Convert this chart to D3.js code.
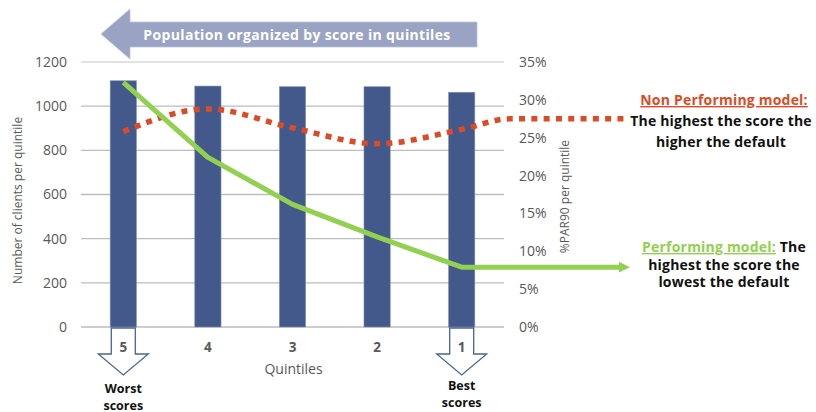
<!DOCTYPE html>
<html lang="en">
<head>
<meta charset="UTF-8">
<title>Population by score quintiles</title>
<script src="https://d3js.org/d3.v7.min.js"></script>
<style>
  body { margin: 0; background: #fff; }
  svg text { font-family: "Open Sans", "Noto Sans", sans-serif; }
</style>
</head>
<body>
<svg id="chart" width="816" height="412"></svg>
<script>
// data
const quintiles = ["5", "4", "3", "2", "1"];
const clients = [1115, 1091, 1088, 1088, 1063];
const parPerforming = [0.323, 0.224, 0.162, 0.119, 0.079];
const parNonPerforming = [0.258, 0.288, 0.263, 0.242, 0.261];
const leftTicks = [0, 200, 400, 600, 800, 1000, 1200];
const rightTicks = [0, 0.05, 0.10, 0.15, 0.20, 0.25, 0.30, 0.35];

const svg = d3.select("#chart");
const plotL = 81, plotR = 504, plotT = 62, plotB = 327;
const lineEndX = 627;

const x = d3.scaleBand().domain(quintiles).range([plotL, plotR])
    .paddingInner(0.69).paddingOuter(0.345);
const yL = d3.scaleLinear().domain([0, 1200]).range([plotB, plotT]);
const yR = d3.scaleLinear().domain([0, 0.35]).range([plotB, plotT]);
const cx = q => x(q) + x.bandwidth() / 2;

const grey = "#595959";
const red = "#dc4a26";
const green = "#92d050";
const barBlue = "#44598b";

// gridlines
svg.append("g").selectAll("line").data(leftTicks).join("line")
    .attr("x1", plotL).attr("x2", plotR)
    .attr("y1", d => yL(d)).attr("y2", d => yL(d))
    .attr("stroke", d => d === 1200 ? "#d9d9d9" : "#bdbdbd")
    .attr("stroke-width", 1.4);

// left axis
const axL = svg.append("g").attr("transform", `translate(${plotL - 14},0)`)
    .call(d3.axisLeft(yL).tickValues(leftTicks).tickSize(0).tickPadding(0)
        .tickFormat(d3.format("d")));
axL.select(".domain").remove();
axL.selectAll("text").attr("fill", grey).attr("font-size", 14)
    .style("font-family", "'Open Sans', sans-serif");

// right axis
const axR = svg.append("g").attr("transform", `translate(${plotR + 15},0)`)
    .call(d3.axisRight(yR).tickValues(rightTicks).tickSize(0).tickPadding(0)
        .tickFormat(d3.format(".0%")));
axR.select(".domain").remove();
axR.selectAll("text").attr("fill", grey).attr("font-size", 14)
    .style("font-family", "'Open Sans', sans-serif");

// axis titles
svg.append("text")
    .attr("transform", `translate(22,${(plotT + plotB) / 2 + 6}) rotate(-90)`)
    .attr("text-anchor", "middle").attr("fill", grey).attr("font-size", 12)
    .text("Number of clients per quintile");
svg.append("text")
    .attr("transform", `translate(569,${(plotT + plotB) / 2 + 2}) rotate(-90)`)
    .attr("text-anchor", "middle").attr("fill", grey).attr("font-size", 12)
    .text("%PAR90 per quintile");

// bars
svg.append("g").selectAll("rect").data(quintiles).join("rect")
    .attr("x", d => x(d)).attr("width", x.bandwidth())
    .attr("y", (d, i) => yL(clients[i]))
    .attr("height", (d, i) => yL(0) - yL(clients[i]))
    .attr("fill", barBlue).attr("stroke", "#7f8fb0").attr("stroke-width", 0.6);

// x labels
svg.append("g").selectAll("text").data(quintiles).join("text")
    .attr("x", d => cx(d)).attr("y", 352)
    .attr("text-anchor", "middle").attr("font-weight", "bold")
    .attr("font-size", 13.5).attr("fill", grey).text(d => d);
svg.append("text").attr("x", (plotL + plotR) / 2 + 1).attr("y", 374)
    .attr("text-anchor", "middle").attr("fill", grey).attr("font-size", 14)
    .text("Quintiles");

// down arrows under worst and best quintiles
const arrowQ = ["5", "1"];
const arrowPath = q => {
  const c = cx(q), y0 = plotB + 1;
  return `M${c - 12},${y0} L${c + 12},${y0} L${c + 12},${y0 + 26} L${c + 25},${y0 + 26}` +
         ` L${c},${y0 + 47} L${c - 25},${y0 + 26} L${c - 12},${y0 + 26} Z`;
};
svg.append("g").selectAll("path").data(arrowQ).join("path")
    .attr("d", arrowPath).attr("fill", "none")
    .attr("stroke", "#4a6496").attr("stroke-width", 1.3);

const arrowNotes = [["Worst", "scores"], ["Best", "scores"]];
arrowQ.forEach((q, i) => {
  arrowNotes[i].forEach((s, j) => {
    svg.append("text").attr("text-anchor", "middle")
        .attr("font-weight", "bold").attr("font-size", 12.5).attr("fill", "#111")
        .attr("x", cx(q)).attr("y", (i === 0 ? 393 : 390) + j * 16.5).text(s);
  });
});

// marker for the green line
svg.append("defs").append("marker")
    .attr("id", "gArrow").attr("viewBox", "0 0 10 10")
    .attr("refX", 2).attr("refY", 5)
    .attr("markerWidth", 2.2).attr("markerHeight", 2.4)
    .attr("markerUnits", "strokeWidth").attr("orient", "auto")
    .append("path").attr("d", "M0,0 L10,5 L0,10 Z").attr("fill", green);

// non performing (dotted, smoothed)
const redPts = quintiles.map((q, i) => [cx(q), yR(parNonPerforming[i])]);
redPts.push([plotR + 6, yR(0.275)], [lineEndX - 2, yR(0.275)]);
svg.append("path").datum(redPts)
    .attr("d", d3.line().curve(d3.curveMonotoneX))
    .attr("fill", "none").attr("stroke", red).attr("stroke-width", 5.5)
    .attr("stroke-dasharray", "6,6.3");

// performing (solid)
const greenPts = quintiles.map((q, i) => [cx(q), yR(parPerforming[i])]);
greenPts.push([lineEndX - 6, yR(parPerforming[4])]);
svg.append("path").datum(greenPts)
    .attr("d", d3.line())
    .attr("fill", "none").attr("stroke", green).attr("stroke-width", 5)
    .attr("stroke-linejoin", "round")
    .attr("marker-end", "url(#gArrow)");

// top banner arrow
const banner = svg.append("g");
banner.append("path")
    .attr("d", "M101,34 L130,9 L130,22 L477,22 L477,47 L130,47 L130,59 Z")
    .attr("fill", "#9aa3c4").attr("stroke", "#bcc3dc").attr("stroke-width", 0.8);
banner.append("text").attr("x", 297).attr("y", 39.5).attr("text-anchor", "middle")
    .attr("font-weight", "bold").attr("font-size", 14).attr("letter-spacing", 0.35)
    .attr("fill", "#fff")
    .text("Population organized by score in quintiles");

// annotations
const npl = svg.append("text").attr("text-anchor", "middle")
    .attr("font-weight", "bold").attr("font-size", 14).attr("letter-spacing", 0.2);
npl.append("tspan").attr("x", 724).attr("y", 105).attr("fill", red)
    .attr("text-decoration", "underline").text("Non Performing model:");
npl.append("tspan").attr("x", 721).attr("y", 126).attr("fill", "#111")
    .text("The highest the score the");
npl.append("tspan").attr("x", 721).attr("y", 147).attr("fill", "#111")
    .text("higher the default");

const perf = svg.append("text").attr("text-anchor", "middle")
    .attr("font-weight", "bold").attr("font-size", 14).attr("letter-spacing", 0.2);
const l1 = perf.append("tspan").attr("x", 724).attr("y", 252);
l1.append("tspan").attr("fill", green).attr("text-decoration", "underline")
    .text("Performing model:");
l1.append("tspan").attr("fill", "#111").text(" The");
perf.append("tspan").attr("x", 724).attr("y", 269.5).attr("fill", "#111")
    .text("highest the score the");
perf.append("tspan").attr("x", 724).attr("y", 287).attr("fill", "#111")
    .text("lowest the default");
</script>
</body>
</html>
